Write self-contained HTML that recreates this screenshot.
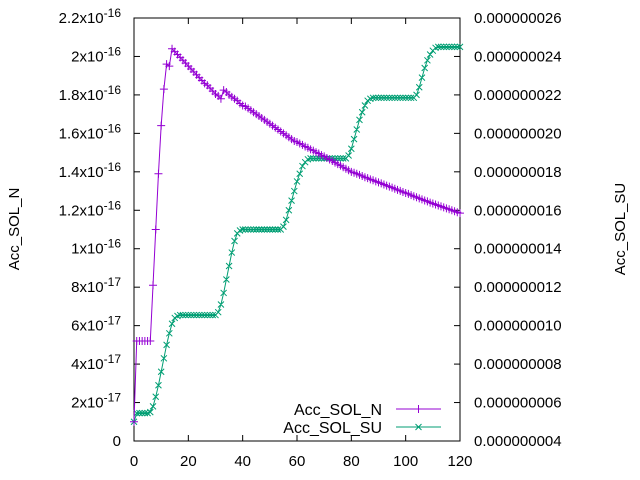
<!DOCTYPE html>
<html><head><meta charset="utf-8"><style>
body{margin:0;background:#fff}
svg{display:block;font-family:"Liberation Sans",sans-serif}
</style></head><body>
<svg id="chart" width="640" height="480" viewBox="0 0 640 480" xmlns="http://www.w3.org/2000/svg">
<g id="grid"></g>
<g id="series"></g>
</svg>
<script>
const xTicks=[0,20,40,60,80,100,120];
const leftTicks=[0,2,4,6,8,10,12,14,16,18,20,22];
const leftTickLabels=["0","2x10","4x10","6x10","8x10","1x10","1.2x10","1.4x10","1.6x10","1.8x10","2x10","2.2x10"];
const leftTickExp=["","-17","-17","-17","-17","-16","-16","-16","-16","-16","-16","-16"];
const rightTicks=[4,6,8,10,12,14,16,18,20,22,24,26];
const rightTickLabels=["0.000000004","0.000000006","0.000000008","0.000000010","0.000000012","0.000000014","0.000000016","0.000000018","0.000000020","0.000000022","0.000000024","0.000000026"];
// Acc_SOL_N in units of 1e-17, x = 0..120
const nValues=[1.0,5.2,5.2,5.2,5.2,5.2,5.2,8.1,11.0,13.9,16.4,18.3,19.6,19.5,20.4,
20.25,20.1,19.95,19.8,19.65,19.5,19.35,19.2,19.05,18.9,18.75,18.6,18.5,18.35,18.2,18.05,17.95,17.8,18.25,18.15,18.0,17.9,17.8,17.7,17.55,17.45,
17.4,17.3,17.2,17.1,17.0,16.9,16.8,16.7,16.6,16.5,
16.4,16.3,16.2,16.1,16.0,15.9,15.8,15.7,15.6,15.55,
15.47,15.4,15.32,15.25,15.17,15.1,15.02,14.95,14.87,14.8,
14.72,14.64,14.56,14.48,14.4,14.32,14.24,14.16,14.08,14.0,
13.95,13.9,13.84,13.78,13.72,13.67,13.61,13.56,13.5,13.45,
13.4,13.34,13.28,13.23,13.18,13.12,13.06,13.01,12.95,12.9,
12.85,12.79,12.73,12.68,12.62,12.57,12.51,12.46,12.4,12.35,
12.3,12.25,12.2,12.15,12.1,12.05,12.0,11.95,11.9,11.85];
// Acc_SOL_SU in units of 1e-9, x = 0..120
const suValues=[5.0,5.45,5.45,5.45,5.45,5.45,
5.5,5.8,6.3,6.9,7.6,8.3,9.0,9.6,10.1,10.4,10.5,10.55,
10.55,10.55,10.55,10.55,10.55,10.55,10.55,10.55,10.55,10.55,10.55,10.55,10.55,
10.7,11.1,11.7,12.4,13.1,13.8,14.4,14.8,14.95,
15.0,15.0,15.0,15.0,15.0,15.0,15.0,15.0,15.0,15.0,15.0,15.0,15.0,15.0,15.0,
15.15,15.5,16.0,16.5,17.0,17.5,17.9,18.3,18.5,18.65,
18.7,18.7,18.7,18.7,18.7,18.7,18.7,18.7,18.7,18.7,18.7,18.7,18.7,18.7,
18.85,19.2,19.7,20.2,20.7,21.1,21.45,21.7,21.8,
21.85,21.85,21.85,21.85,21.85,21.85,21.85,21.85,21.85,21.85,21.85,21.85,21.85,21.85,21.85,21.85,
22.0,22.4,22.9,23.4,23.8,24.1,24.3,24.45,
24.5,24.5,24.5,24.5,24.5,24.5,24.5,24.5,24.5];

const L=134,R=460,T=18,B=441;
const xs=v=>L+(v-0)/120*(R-L);
const yl=v=>B-(v-0)/22*(B-T);
const yr=v=>B-(v-4)/22*(B-T);
const NS="http://www.w3.org/2000/svg";
const svg=document.getElementById('chart');
const grid=document.getElementById('grid');
const ser=document.getElementById('series');
function mk(tag,attrs,parent){const e=document.createElementNS(NS,tag);for(const k in attrs)e.setAttribute(k,attrs[k]);parent.appendChild(e);return e;}

const frame=mk('rect',{x:L,y:T,width:R-L,height:B-T,fill:'none',stroke:'#000','stroke-width':1},grid);



xTicks.forEach(v=>{
  const x=xs(v);
  const t=mk('path',{d:`M${x},${B}v-6M${x},${T}v6`,stroke:'#000'},grid);
  
  
  const lb=mk('text',{x:x,y:466,'font-size':15,'text-anchor':'middle'},grid);
  lb.textContent=String(v);
  
  
});
leftTicks.forEach((v,i)=>{
  const y=yl(v);
  const t=mk('path',{d:`M${L},${y}h6`,stroke:'#000'},grid);
  
  
  const lb=mk('text',{x:121,y:y+5,'font-size':15,'text-anchor':'end'},grid);
  
  
  if(leftTickExp[i]){
    const a=mk('tspan',{},lb);a.textContent=leftTickLabels[i];
    const b=mk('tspan',{dy:-6,'font-size':12},lb);b.textContent=leftTickExp[i];
  } else lb.textContent=leftTickLabels[i];
});
rightTicks.forEach((v,i)=>{
  const y=yr(v);
  const t=mk('path',{d:`M${R},${y}h-6`,stroke:'#000'},grid);
  
  
  const lb=mk('text',{x:474,y:y+5,'font-size':15},grid);
  lb.textContent=rightTickLabels[i];
  
  
});
const yt=mk('text',{x:19,y:229,'font-size':15,'text-anchor':'middle',transform:'rotate(-90 19 229)'},grid);
yt.textContent='Acc_SOL_N';


const yt2=mk('text',{x:625,y:229,'font-size':15,'text-anchor':'middle',transform:'rotate(-90 625 229)'},grid);
yt2.textContent='Acc_SOL_SU';



function plus(x,y,s){return `M${x-s},${y}h${2*s}M${x},${y-s}v${2*s}`;}
function cross(x,y,s){return `M${x-s},${y-s}l${2*s},${2*s}M${x-s},${y+s}l${2*s},${-2*s}`;}

let d='',m='';
suValues.forEach((v,i)=>{const x=xs(i),y=yr(v);d+=(i?'L':'M')+x+','+y;m+=cross(x,y,3);});
const suLine=mk('path',{d:d,fill:'none',stroke:'#009e73','stroke-width':1},ser);


const suMk=mk('path',{d:m,fill:'none',stroke:'#009e73','stroke-width':1},ser);


d='';m='';
nValues.forEach((v,i)=>{const x=xs(i),y=yl(v*1);d+=(i?'L':'M')+x+','+y;m+=plus(x,y,4);});
const nLine=mk('path',{d:d,fill:'none',stroke:'#9400d3','stroke-width':1},ser);


const nMk=mk('path',{d:m,fill:'none',stroke:'#9400d3','stroke-width':1},ser);



const lg=mk('g',{},svg);


const e1=mk('g',{},lg);


mk('text',{x:382,y:415,'font-size':16,'text-anchor':'end'},e1).textContent='Acc_SOL_N';
mk('path',{d:`M396,409h45`+plus(418.5,409,4),stroke:'#9400d3',fill:'none'},e1);
const e2=mk('g',{},lg);


mk('text',{x:382,y:433,'font-size':16,'text-anchor':'end'},e2).textContent='Acc_SOL_SU';
mk('path',{d:`M396,427h45`+cross(418.5,427,3),stroke:'#009e73',fill:'none'},e2);
</script>
</body></html>
